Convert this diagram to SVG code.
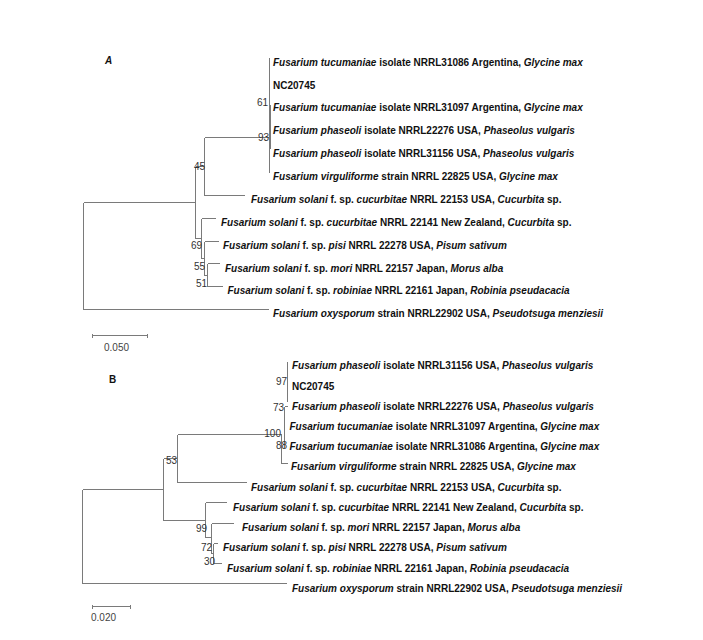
<svg xmlns="http://www.w3.org/2000/svg" width="703" height="640" viewBox="0 0 703 640">
<style>
.t{font-family:"Liberation Sans",Arial,sans-serif;font-size:10px;font-weight:bold;fill:#111}
.i{font-style:italic}
.n{font-family:"Liberation Sans",Arial,sans-serif;font-size:10px;fill:#333}
.s{font-family:"Liberation Sans",Arial,sans-serif;font-size:10px;fill:#444}
.lbl{font-family:"Liberation Sans",Arial,sans-serif;font-size:10px;font-weight:bold;fill:#111}
.e{fill:none;stroke:#7a7a7a;stroke-width:1}
</style>
<rect width="703" height="640" fill="#fff"/>
<text class="lbl i" x="105" y="64">A</text>
<text class="lbl" x="109" y="383">B</text>

<g id="connectors">
<g id="tree-A-edges" class="e" shape-rendering="crispEdges">
<path d="M269.5 57.5V172.5M270.5 104.5V148.5"/>
<path d="M204.5 137.5H269.5M204.5 137.5V195.5H245"/>
<path d="M195.5 166.5H204.5M195.5 166.5V238.5H201.5"/>
<path d="M201.5 218.5H216M201.5 218.5V258.5H204.5"/>
<path d="M204.5 241.5H219M204.5 241.5V275.5H207.5"/>
<path d="M207.5 263.5H220M207.5 263.5V286.5H223"/>
<path d="M83.5 202.5H195.5M83.5 202.5V309.5H269"/>
<path d="M92.5 335.5H147.5M92.5 333.5V337.5M147.5 333.5V337.5"/>
</g>
<g id="tree-B-edges" class="e" shape-rendering="crispEdges">
<path d="M287.5 361.5V401.5"/>
<path d="M284.5 406.5H287.5M284.5 406.5V447.5"/>
<path d="M281.5 434.5V463.5H288"/>
<path d="M177.5 434.5H281.5M177.5 434.5V482.5H247"/>
<path d="M163.5 458.5H177.5M163.5 458.5V520.5"/>
<path d="M82.5 489.5H163.5M82.5 489.5V583.5H287"/>
<path d="M163.5 520.5H205.5M205.5 502.5V537.5M205.5 502.5H227M205.5 537.5H211.5"/>
<path d="M211.5 523.5V553.5M211.5 523.5H234M211.5 553.5H213.5"/>
<path d="M213.5 543.5V563.5M213.5 543.5H218M213.5 563.5H222"/>
<path d="M92.5 606.5H130.5M92.5 604.5V608.5M130.5 604.5V608.5"/>
</g>
</g>

<g id="tree-A-support">
<text class="n" x="268" y="106" text-anchor="end">61</text>
<text class="n" x="269" y="141" text-anchor="end">93</text>
<text class="n" x="205" y="170" text-anchor="end">45</text>
<text class="n" x="202" y="249" text-anchor="end">69</text>
<text class="n" x="205" y="270" text-anchor="end">55</text>
<text class="n" x="207" y="287" text-anchor="end">51</text>
<text class="s" x="104" y="351">0.050</text>
</g>

<g id="A-leaf-1"><text class="t" x="273" y="65.7"><tspan class="i">Fusarium tucumaniae</tspan> isolate NRRL31086 Argentina, <tspan class="i">Glycine max</tspan></text></g>
<g id="A-leaf-2"><text class="t" x="273" y="88.6">NC20745</text></g>
<g id="A-leaf-3"><text class="t" x="273" y="111.4"><tspan class="i">Fusarium tucumaniae</tspan> isolate NRRL31097 Argentina, <tspan class="i">Glycine max</tspan></text></g>
<g id="A-leaf-4"><text class="t" x="273" y="134.3"><tspan class="i">Fusarium phaseoli</tspan> isolate NRRL22276 USA, <tspan class="i">Phaseolus vulgaris</tspan></text></g>
<g id="A-leaf-5"><text class="t" x="273" y="157.2"><tspan class="i">Fusarium phaseoli</tspan> isolate NRRL31156 USA, <tspan class="i">Phaseolus vulgaris</tspan></text></g>
<g id="A-leaf-6"><text class="t" x="273" y="180.1"><tspan class="i">Fusarium virguliforme</tspan> strain NRRL 22825 USA, <tspan class="i">Glycine max</tspan></text></g>
<g id="A-leaf-7"><text class="t" x="251" y="202.9"><tspan class="i">Fusarium solani</tspan> f. sp. <tspan class="i">cucurbitae</tspan> NRRL 22153 USA, <tspan class="i">Cucurbita</tspan> sp.</text></g>
<g id="A-leaf-8"><text class="t" x="221" y="225.8"><tspan class="i">Fusarium solani</tspan> f. sp. <tspan class="i">cucurbitae</tspan> NRRL 22141 New Zealand, <tspan class="i">Cucurbita</tspan> sp.</text></g>
<g id="A-leaf-9"><text class="t" x="223" y="248.7"><tspan class="i">Fusarium solani</tspan> f. sp. <tspan class="i">pisi</tspan> NRRL 22278 USA, <tspan class="i">Pisum sativum</tspan></text></g>
<g id="A-leaf-10"><text class="t" x="225" y="271.5"><tspan class="i">Fusarium solani</tspan> f. sp. <tspan class="i">mori</tspan> NRRL 22157 Japan, <tspan class="i">Morus alba</tspan></text></g>
<g id="A-leaf-11"><text class="t" x="227.5" y="294.4"><tspan class="i">Fusarium solani</tspan> f. sp. <tspan class="i">robiniae</tspan> NRRL 22161 Japan, <tspan class="i">Robinia pseudacacia</tspan></text></g>
<g id="A-leaf-12"><text class="t" x="273" y="317.3"><tspan class="i">Fusarium oxysporum</tspan> strain NRRL22902 USA, <tspan class="i">Pseudotsuga menziesii</tspan></text></g>

<g id="tree-B-support">
<text class="n" x="287" y="385" text-anchor="end">97</text>
<text class="n" x="284" y="410.5" text-anchor="end">73</text>
<text class="n" x="281" y="437" text-anchor="end">100</text>
<text class="n" x="287" y="449" text-anchor="end" font-size="9">88</text>
<text class="n" x="177" y="464" text-anchor="end">53</text>
<text class="n" x="207" y="532" text-anchor="end">99</text>
<text class="n" x="212" y="551" text-anchor="end">72</text>
<text class="n" x="215" y="565" text-anchor="end">30</text>
<text class="s" x="91" y="621">0.020</text>
</g>

<g id="B-leaf-1"><text class="t" x="292" y="369.3"><tspan class="i">Fusarium phaseoli</tspan> isolate NRRL31156 USA, <tspan class="i">Phaseolus vulgaris</tspan></text></g>
<g id="B-leaf-2"><text class="t" x="292" y="389.5">NC20745</text></g>
<g id="B-leaf-3"><text class="t" x="292" y="409.7"><tspan class="i">Fusarium phaseoli</tspan> isolate NRRL22276 USA, <tspan class="i">Phaseolus vulgaris</tspan></text></g>
<g id="B-leaf-4"><text class="t" x="289.5" y="429.9"><tspan class="i">Fusarium tucumaniae</tspan> isolate NRRL31097 Argentina, <tspan class="i">Glycine max</tspan></text></g>
<g id="B-leaf-5"><text class="t" x="289.5" y="450.2"><tspan class="i">Fusarium tucumaniae</tspan> isolate NRRL31086 Argentina, <tspan class="i">Glycine max</tspan></text></g>
<g id="B-leaf-6"><text class="t" x="291" y="470.4"><tspan class="i">Fusarium virguliforme</tspan> strain NRRL 22825 USA, <tspan class="i">Glycine max</tspan></text></g>
<g id="B-leaf-7"><text class="t" x="251" y="490.6"><tspan class="i">Fusarium solani</tspan> f. sp. <tspan class="i">cucurbitae</tspan> NRRL 22153 USA, <tspan class="i">Cucurbita</tspan> sp.</text></g>
<g id="B-leaf-8"><text class="t" x="233" y="510.8"><tspan class="i">Fusarium solani</tspan> f. sp. <tspan class="i">cucurbitae</tspan> NRRL 22141 New Zealand, <tspan class="i">Cucurbita</tspan> sp.</text></g>
<g id="B-leaf-9"><text class="t" x="242" y="531"><tspan class="i">Fusarium solani</tspan> f. sp. <tspan class="i">mori</tspan> NRRL 22157 Japan, <tspan class="i">Morus alba</tspan></text></g>
<g id="B-leaf-10"><text class="t" x="223" y="551.3"><tspan class="i">Fusarium solani</tspan> f. sp. <tspan class="i">pisi</tspan> NRRL 22278 USA, <tspan class="i">Pisum sativum</tspan></text></g>
<g id="B-leaf-11"><text class="t" x="227" y="571.5"><tspan class="i">Fusarium solani</tspan> f. sp. <tspan class="i">robiniae</tspan> NRRL 22161 Japan, <tspan class="i">Robinia pseudacacia</tspan></text></g>
<g id="B-leaf-12"><text class="t" x="292" y="591.7"><tspan class="i">Fusarium oxysporum</tspan> strain NRRL22902 USA, <tspan class="i">Pseudotsuga menziesii</tspan></text></g>
</svg>
